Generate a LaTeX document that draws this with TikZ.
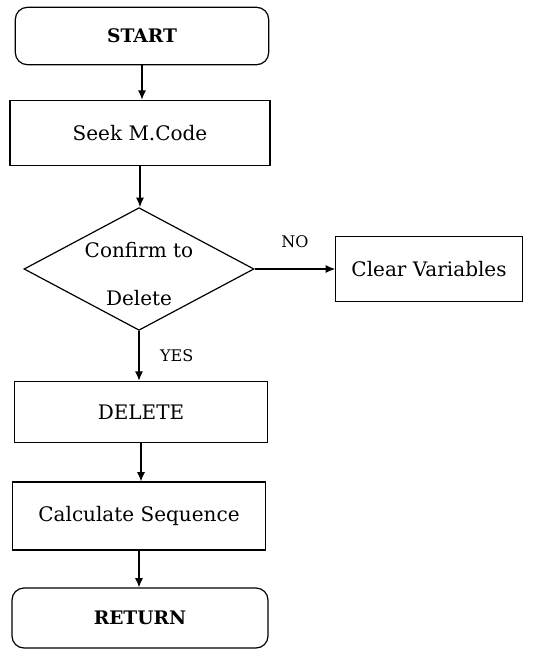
\documentclass[tikz,border=0pt]{standalone}
\usepackage{fontspec}
\setmainfont{DejaVu Serif}
\usetikzlibrary{arrows.meta,positioning,shapes.geometric}

\tikzset{
  box/.style={draw,line width=0.9pt,inner sep=0pt,font=\fontsize{15}{18}\selectfont},
  term/.style={box,rounded corners=9pt,font=\fontsize{14}{17}\selectfont\bfseries},
  choice/.style={box,diamond,minimum width=172.5pt,minimum height=92pt},
  flow/.style={line width=0.9pt,-{Latex[length=7pt,width=6pt]}},
  tag/.style={font=\fontsize{12}{14}\selectfont}
}

\begin{document}
\begin{tikzpicture}[x=0.75pt,y=-0.75pt]

     \useasboundingbox (0,0) rectangle (532,653);

     % main column
     \node[term,minimum width=190pt,minimum height=43pt] (start)   at (142,36)  {START};
     \node[box, minimum width=195pt,minimum height=49pt] (seek)    at (140,133) {Seek M.Code};
     \node[choice]                                        (confirm) at (139,269)
          {\makebox[0pt]{\smash{\raisebox{-9pt}{\begin{tabular}{@{}c@{}}Confirm to\\[18pt]Delete\end{tabular}}}}};
     \node[box, minimum width=190pt,minimum height=46pt] (delete)  at (141,412) {DELETE};
     \node[box, minimum width=190pt,minimum height=51pt] (calc)    at (139,516) {Calculate Sequence};
     \node[term,minimum width=192pt,minimum height=45pt] (return)  at (140,618) {RETURN};
     % the NO branch
     \node[box, minimum width=140pt,minimum height=49pt] (clear)   at (429,269) {Clear Variables};

     % connectors
     \draw[flow] (start.south)   -- (start.south |- seek.north);
     \draw[flow] (seek.south)    -- (seek.south |- confirm.north);
     \draw[flow] (confirm.south) to node [right=12pt,tag]{YES} (confirm.south |- delete.north);
     \draw[flow] (confirm.east)  to node [above=12pt,tag]{NO} (clear.west);
     \draw[flow] (delete.south)  -- (delete.south |- calc.north);
     \draw[flow] (calc.south)    -- (calc.south |- return.north);

\end{tikzpicture}
\end{document}
